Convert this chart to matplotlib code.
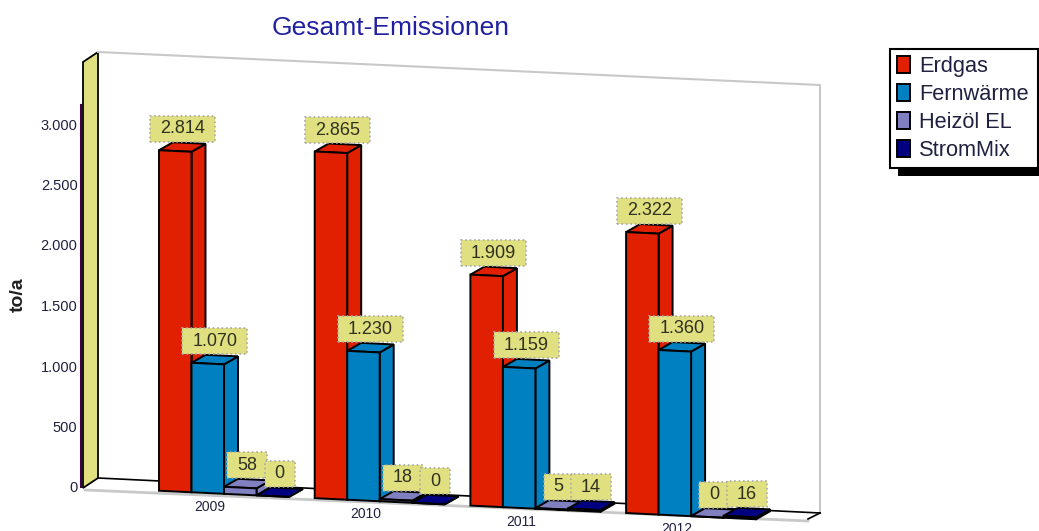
import matplotlib
matplotlib.use("Agg")
import matplotlib.pyplot as plt
from matplotlib.patches import Patch, Polygon, Rectangle
from matplotlib.path import Path
from matplotlib.ticker import FuncFormatter
from matplotlib.transforms import Affine2D

plt.rcParams['font.family'] = ['Liberation Sans', 'DejaVu Sans']

years = ["2009", "2010", "2011", "2012"]
erdgas = [2814, 2865, 1909, 2322]
fernwaerme = [1070, 1230, 1159, 1360]
heizoel = [58, 18, 5, 0]
strommix = [0, 0, 14, 16]

names = ["Erdgas", "Fernwärme", "Heizöl EL", "StromMix"]
colors = ["#E02000", "#0080C0", "#8080C0", "#000080"]
yticks = [0, 500, 1000, 1500, 2000, 2500, 3000]

W, H = 1039, 531
KHAKI = "#E0E080"
GREY = "#C8C8C8"


def label_box(x0, y0, width, height, mutation_size):
    # data labels are wider than tall, boxstyle pad can't do that
    px, py = 10, 4.5
    x0, x1, y0, y1 = x0 - px, x0 + width + px, y0 - py, y0 + height + py
    return Path([(x0, y0), (x1, y0), (x1, y1), (x0, y1), (x0, y0)], closed=True)


fig = plt.figure(figsize=(W / 100, H / 100), dpi=100)

# background layer in pixel coords, for the fake 3d walls
bg = fig.add_axes([0, 0, 1, 1])
bg.set_xlim(0, W)
bg.set_ylim(H, 0)
bg.axis("off")

bg.add_patch(Polygon([(83, 62), (98, 52), (98, 478), (83, 488)], fc=KHAKI, ec="black", lw=1.3))
bg.plot([98, 820, 820], [52, 85, 513], color=GREY, lw=1.5)
bg.plot([98, 820], [478, 513], color="black", lw=1.2)
bg.plot([85, 808], [490, 521], color=GREY, lw=2)
bg.plot([808, 820], [519, 513], color="black", lw=1.2)

# bar axes: x in categories, y in tons, sheared so the floor runs downhill
left_px, right_px, zero_px, top_px = 81, 820, 487, 105
cat_px = 155.7
first_px = 224
val_px = 0.121
slope = 0.0478

ax = fig.add_axes([left_px / W, (H - zero_px) / H, (right_px - left_px) / W, (zero_px - top_px) / H])
ax.patch.set_alpha(0)
ax.set_xlim((left_px - first_px) / cat_px, (right_px - first_px) / cat_px)
ax.set_ylim(0, (zero_px - top_px) / val_px)
ax.set_autoscale_on(False)

skew = ax.transData + Affine2D([[1, 0, 0], [-slope, 1, slope * left_px], [0, 0, 1]])

bar_w = 32.5 / cat_px
dx = 14 / cat_px
dy = (8 + slope * 14) / val_px

series = [erdgas, fernwaerme, heizoel, strommix]
label_fmt = lambda v: f"{v:,}".replace(",", ".")

for s, values in enumerate(series):
    z = 3 + s
    for i, v in enumerate(values):
        x0 = i + (s - 2) * bar_w
        x1 = x0 + bar_w
        ax.fill([x1, x1 + dx, x1 + dx, x1], [0, dy, v + dy, v], fc=colors[s], ec="black", lw=1.4,
                transform=skew, clip_on=False, zorder=z)
        ax.fill([x0, x0 + dx, x1 + dx, x1], [v, v + dy, v + dy, v], fc=colors[s], ec="black", lw=1.4,
                transform=skew, clip_on=False, zorder=z)
    ax.bar([i + (s - 1.5) * bar_w for i in range(len(values))], values, width=bar_w, color=colors[s],
           edgecolor="black", lw=1.4, transform=skew, clip_on=False, zorder=z)

for s, values in enumerate(series):
    for i, v in enumerate(values):
        ax.annotate(label_fmt(v), xy=(i + (s - 1.5) * bar_w, v), xycoords=skew,
                    xytext=(5, 16), textcoords="offset points", ha="center", va="center",
                    fontsize=13, color="#303020", zorder=10 + s, annotation_clip=False,
                    bbox=dict(boxstyle=label_box, fc=KHAKI, ec="#A8A8A8", ls=":", lw=1.2))

for i, year in enumerate(years):
    ax.annotate(year, xy=(i, 0), xycoords=skew, xytext=(-10, -9.5), textcoords="offset points",
                ha="center", va="center", fontsize=10, color="#202040", annotation_clip=False)

ax.set_yticks(yticks)
ax.yaxis.set_major_formatter(FuncFormatter(lambda v, p: label_fmt(int(v))))
ax.tick_params(axis="y", length=0, pad=2.5, labelsize=10.5, labelcolor="#202040")
ax.set_xticks([])
for side in ["top", "right", "bottom"]:
    ax.spines[side].set_visible(False)
ax.spines["left"].set_color("#400040")
ax.spines["left"].set_linewidth(1.5)

bg.text(18, 295, "to/a", rotation=90, ha="center", va="center", fontsize=14, fontweight="bold", color="#202020")
bg.text(391, 28, "Gesamt-Emissionen", ha="center", va="center", fontsize=19, color="#2020A0")

# legend with a hard black shadow
bg.add_patch(Rectangle((898, 57), 141, 119, fc="black", ec="none"))
handles = [Patch(fc=c, ec="black", lw=1.4) for c in colors]
leg = bg.legend(handles, names, loc="upper left", bbox_to_anchor=(890 / W, 1 - 168 / H, 148 / W, 119 / H),
                bbox_transform=fig.transFigure, mode="expand", borderaxespad=0, fontsize=15.7,
                handlelength=0.6, handleheight=0.85, handletextpad=0.43, labelspacing=0.31,
                borderpad=0.32, fancybox=False, framealpha=1, edgecolor="black", labelcolor="#202040")
leg.get_frame().set_linewidth(1.5)

fig.savefig("out.png", dpi=100)
